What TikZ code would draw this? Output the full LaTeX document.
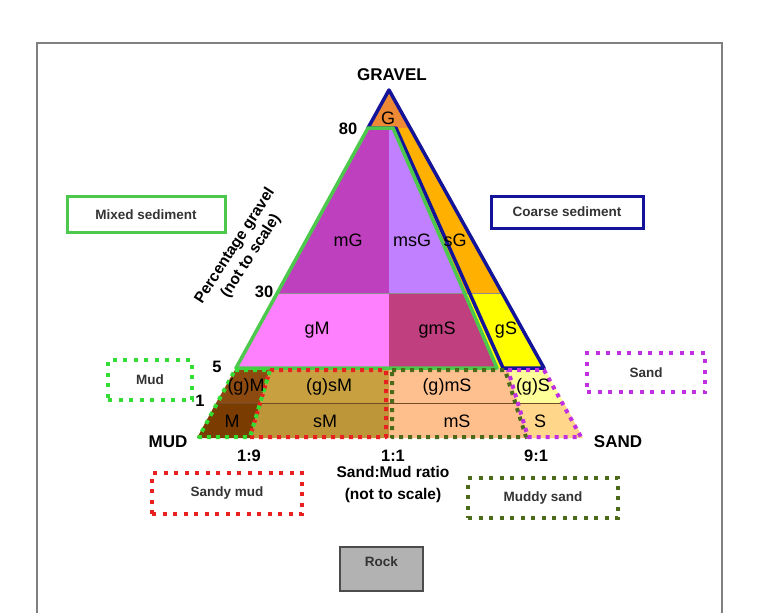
\documentclass[tikz,border=0pt]{standalone}
\usepackage{fontspec}
\setmainfont{Liberation Sans}
\usepackage{tikz}
\usetikzlibrary{calc}

\definecolor{colG}{HTML}{EE8A35}
\definecolor{colsG}{HTML}{FFB000}
\definecolor{colgS}{HTML}{FFFF00}
\definecolor{colmG}{HTML}{BF40BF}
\definecolor{colmsG}{HTML}{C080FF}
\definecolor{colgM}{HTML}{FF80FF}
\definecolor{colgmS}{HTML}{C0407F}
\definecolor{colbgM}{HTML}{8C4A10}
\definecolor{colM}{HTML}{7A3C00}
\definecolor{colbgsM}{HTML}{C8A040}
\definecolor{colsM}{HTML}{BE963A}
\definecolor{colbgmS}{HTML}{FFC090}
\definecolor{colmS}{HTML}{FFBF8C}
\definecolor{colbgS}{HTML}{FFFF99}
\definecolor{colS}{HTML}{FFD68A}
\definecolor{colMixed}{HTML}{4CC94C}
\definecolor{colCoarse}{HTML}{14149A}
\definecolor{colMud}{HTML}{33DD33}
\definecolor{colSandyMud}{HTML}{E82020}
\definecolor{colMuddySand}{HTML}{4B6B1A}
\definecolor{colSand}{HTML}{C030E0}

\begin{document}
\begin{tikzpicture}[x=1pt,y=-1pt,
    region/.style={font=\fontsize{18}{20}\selectfont},
    tick/.style={font=\bfseries\fontsize{17}{18}\selectfont},
    boxtext/.style={font=\bfseries\fontsize{13.5}{14}\selectfont,text=black!80},
    solidbox/.style={draw=#1,line width=3pt,inner sep=0pt,boxtext},
    dotbox/.style={draw=#1,line width=4pt,dash pattern=on 4pt off 6.5pt,inner sep=0pt,boxtext},
    dotline/.style={draw=#1,line width=4pt,dash pattern=on 4pt off 5pt,line join=round}]
  \useasboundingbox (0,0) rectangle (771,613);
  \draw[gray,line width=2pt] (37,613) -- (37,43) -- (722,43) -- (722,613);

  % corners and levels of the triangle
  \coordinate (gravel) at (389,90);
  \coordinate (mud) at (197,438);
  \coordinate (sand) at (583,438);
  \coordinate (l80) at (368,128); \coordinate (m80) at (389,128);
  \coordinate (g80) at (393,128); \coordinate (r80) at (412,128);
  \coordinate (l30) at (277,293); \coordinate (m30) at (389,293);
  \coordinate (g30) at (465,293); \coordinate (r30) at (503,293);
  \coordinate (l5) at (236,368); \coordinate (a5) at (270,368);
  \coordinate (m5) at (389,368); \coordinate (g5) at (497,368);
  \coordinate (b5) at (508,368); \coordinate (r5) at (544,368);
  \coordinate (l1) at (216,403); \coordinate (a1) at (260,403);
  \coordinate (m1) at (389,403); \coordinate (b1) at (518,403);
  \coordinate (r1) at (564,403);
  \coordinate (a0) at (250,438); \coordinate (m0) at (389,438);
  \coordinate (b0) at (528,438);

  % fills
  \fill[colG] (gravel) -- (l80) -- (r80) -- cycle;
  \fill[colsG] (g80) -- (r80) -- (r30) -- (g30) -- cycle;
  \fill[colgS] (g30) -- (r30) -- (r5) -- (g5) -- cycle;
  \fill[colmG] (l80) -- (m80) -- (m30) -- (l30) -- cycle;
  \fill[colmsG] (m80) -- (g80) -- (g30) -- (m30) -- cycle;
  \fill[colgM] (l30) -- (m30) -- (m5) -- (l5) -- cycle;
  \fill[colgmS] (m30) -- (g30) -- (g5) -- (m5) -- cycle;
  \fill[colbgM] (l5) -- (a5) -- (a1) -- (l1) -- cycle;
  \fill[colM] (l1) -- (a1) -- (a0) -- (mud) -- cycle;
  \fill[colbgsM] (a5) -- (m5) -- (m1) -- (a1) -- cycle;
  \fill[colsM] (a1) -- (m1) -- (m0) -- (a0) -- cycle;
  \fill[colbgmS] (m5) -- (b5) -- (b1) -- (m1) -- cycle;
  \fill[colmS] (m1) -- (b1) -- (b0) -- (m0) -- cycle;
  \fill[colbgS] (b5) -- (r5) -- (r1) -- (b1) -- cycle;
  \fill[colS] (b1) -- (r1) -- (sand) -- (b0) -- cycle;
  \draw[brown!60!black,thin] (l1) -- (r1);
  \draw[black!45,thin] (l30) -- (r30);

  % coarse and mixed outlines
  \draw[colCoarse,line width=3.5pt,line join=round] (gravel) -- (l80) -- ($(g80)+(3,0)$) -- ($(g5)+(6,0)$) -- (r5) -- cycle;
  \draw[colMixed,line width=3.5pt,line join=round] (l80) -- (g80) -- (g5) -- (l5) -- cycle;

  % dotted outlines of the bottom band
  \draw[dotline=colSandyMud] ($(a5)+(0,2)$) -- ($(m5)+(-3,2)$) -- ($(m0)+(-3,-1)$) -- ($(a0)+(0,-1)$) -- cycle;
  \draw[dotline=colMuddySand] ($(m5)+(3,2)$) -- ($(b5)+(-3,2)$) -- ($(b0)+(-2,-1)$) -- ($(m0)+(3,-1)$) -- cycle;
  \draw[dotline=colMud] ($(l5)+(-1,2)$) -- ($(a5)+(0,2)$) -- ($(a0)+(0,-1)$) -- ($(mud)+(2,-1)$) -- cycle;
  \draw[dotline=colSand] ($(b5)+(0,2)$) -- ($(r5)+(0,2)$) -- ($(sand)+(-2,-1)$) -- ($(b0)+(0,-1)$) -- cycle;

  % class labels
  \foreach \n/\t/\x/\y in {lG/G/388/118, lmG/mG/348/240, lmsG/msG/412/240, lsG/sG/455/240,
      lgM/gM/317/330, lgmS/gmS/437/330, lgS/gS/506/330,
      lbgM/(g)M/246/387, lbgsM/(g)sM/329/387, lbgmS/(g)mS/447/387, lbgS/(g)S/533/387,
      lM/M/232/421, lsM/sM/325/421, lmS/mS/457/421, lS/S/540/421}
    \node[region,inner sep=0pt] (\n) at (\x,\y) {\t};

  % axes
  \node[tick] (gravellabel) at (392,75) {GRAVEL};
  \node[tick] (mudlabel) at (168,442) {MUD};
  \node[tick] (sandlabel) at (618,442) {SAND};
  \foreach \n/\t/\x/\y in {t80/80/348/129, t30/30/264/292, t5/5/217/367, t1/1/200/401,
      t19/1:9/249/456, t11/1:1/393/456, t91/9:1/536/456}
    \node[tick,font=\bfseries\fontsize{16.5}{18}\selectfont] (\n) at (\x,\y) {\t};
  \node[rotate=57,align=center,inner sep=0pt,font=\bfseries\fontsize{15.5}{19}\selectfont] (gravelaxis) at (243,251) {Percentage gravel\\(not to scale)};
  \node[align=center,font=\bfseries\fontsize{15.5}{22}\selectfont] (ratioaxis) at (393,484) {Sand:Mud ratio\\(not to scale)};

  % legend boxes
  \node[solidbox=colMixed,minimum width=158pt,minimum height=36pt] (mixed) at (146,214.5) {Mixed sediment};
  \node[solidbox=colCoarse,minimum width=152pt,minimum height=32pt] (coarse) at (567,212) {Coarse sediment};
  \node[dotbox=colMud,minimum width=84pt,minimum height=40pt] (mudbox) at (150,380) {Mud};
  \node[dotbox=colSand,minimum width=118pt,minimum height=39pt] (sandbox) at (646,372.5) {Sand};
  \node[dotbox=colSandyMud,minimum width=150pt,minimum height=41pt] (sandymud) at (227,493.5) {Sandy mud};
  \node[dotbox=colMuddySand,minimum width=150pt,minimum height=40pt] (muddysand) at (543,498) {Muddy sand};
  \node[draw=black!70,fill=black!30,line width=1.5pt,boxtext,minimum width=83pt,minimum height=44pt,text depth=14pt] (rock) at (381.5,569) {Rock};
\end{tikzpicture}
\end{document}
